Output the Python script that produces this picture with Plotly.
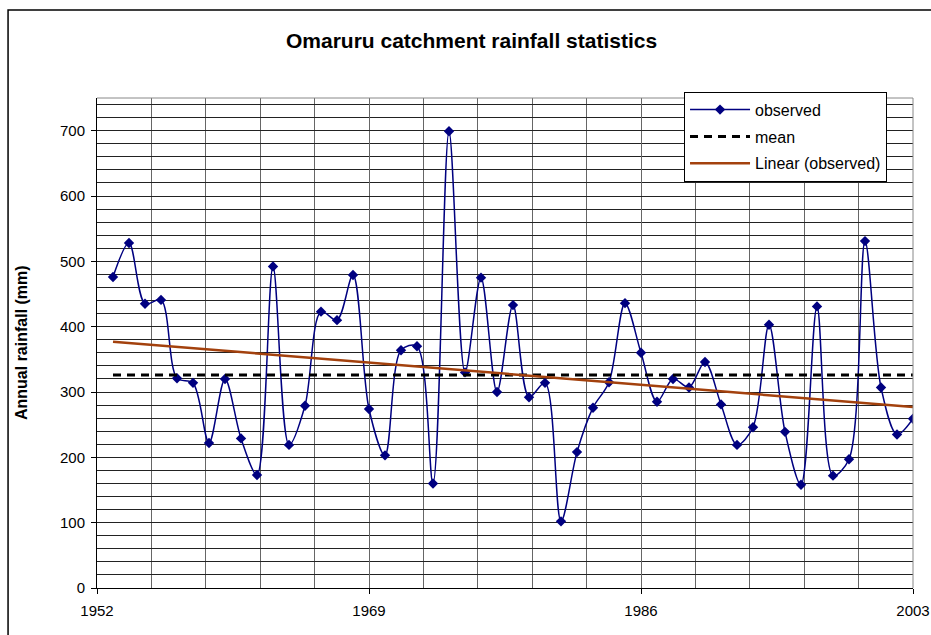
import plotly.graph_objects as go

# ---- data ----
years = [1953, 1954, 1955, 1956, 1957, 1958, 1959, 1960, 1961, 1962,
         1963, 1964, 1965, 1966, 1967, 1968, 1969, 1970, 1971, 1972,
         1973, 1974, 1975, 1976, 1977, 1978, 1979, 1980, 1981, 1982,
         1983, 1984, 1985, 1986, 1987, 1988, 1989, 1990, 1991, 1992,
         1993, 1994, 1995, 1996, 1997, 1998, 1999, 2000, 2001, 2002, 2003]
observed = [476, 528, 435, 441, 321, 314, 222, 320, 229, 173,
            492, 219, 279, 423, 410, 479, 274, 203, 364, 370,
            160, 699, 330, 475, 300, 433, 292, 314, 102, 208,
            276, 315, 436, 360, 285, 320, 307, 346, 281, 219,
            246, 403, 239, 158, 431, 172, 197, 531, 307, 235, 259]
mean_years = [1953, 2003]
mean_values = [326, 326]
trend_years = [1953, 2003]
trend_values = [377, 277]
x_ticks = [1952, 1969, 1986, 2003]

FONT = "Liberation Sans, Arial, sans-serif"

fig = go.Figure()
fig.add_trace(go.Scatter(
    x=years, y=observed, name="observed", mode="lines+markers",
    legendgroup="a",
    line=dict(color="#000080", width=1.5, shape="spline", smoothing=0.9),
    marker=dict(symbol="diamond", size=8, color="#000080"),
))
fig.add_trace(go.Scatter(
    x=mean_years, y=mean_values, name="mean", mode="lines",
    legendgroup="b",
    line=dict(color="black", width=3, dash="8px,6px"),
))
fig.add_trace(go.Scatter(
    x=trend_years, y=trend_values, name="Linear (observed)", mode="lines",
    legendgroup="c",
    line=dict(color="#A3410D", width=2.5),
))

fig.update_layout(
    width=931, height=635,
    margin=dict(l=97, r=18, t=98, b=47, autoexpand=False),
    paper_bgcolor="white", plot_bgcolor="white",
    font=dict(family=FONT, color="black"),
    title=dict(text="<b>Omaruru catchment rainfall statistics</b>",
               font=dict(family=FONT, size=21, color="black"),
               xref="paper", x=0.459, xanchor="center",
               yref="container", y=1 - 41 / 635, yanchor="middle"),
    showlegend=True,
    legend=dict(x=0.7194, y=1.0129, xanchor="left", yanchor="top",
                bgcolor="white", bordercolor="black", borderwidth=1,
                font=dict(family=FONT, size=16, color="black"),
                itemwidth=60, tracegroupgap=3),
    xaxis=dict(range=[1952, 2003], tickmode="array", tickvals=x_ticks,
               ticktext=[str(v) for v in x_ticks],
               ticks="outside", ticklen=5, tickcolor="black",
               ticklabelstandoff=4,
               showline=True, linecolor="black", linewidth=1,
               showgrid=True, gridcolor="#666666", gridwidth=1,
               minor=dict(tick0=1952, dtick=3.4, showgrid=True,
                          gridcolor="#666666", gridwidth=1, ticks=""),
               zeroline=False, automargin=False,
               tickfont=dict(size=15, family=FONT, color="black")),
    yaxis=dict(range=[0, 750], tick0=0, dtick=100,
               ticks="outside", ticklen=5, tickcolor="black",
               ticklabelstandoff=3,
               showline=True, linecolor="black", linewidth=1,
               showgrid=True, gridcolor="#222222", gridwidth=1,
               minor=dict(tick0=0, dtick=20, showgrid=True,
                          gridcolor="#222222", gridwidth=1, ticks=""),
               zeroline=False, automargin=False,
               tickfont=dict(size=15, family=FONT, color="black")),
    annotations=[dict(text="<b>Annual rainfall (mm)</b>", textangle=-90,
                      xref="paper", yref="paper", x=-0.0931, y=0.5,
                      xanchor="center", yanchor="middle", showarrow=False,
                      font=dict(family=FONT, size=16, color="black"))],
    shapes=[
        dict(type="rect", xref="paper", yref="paper", x0=-0.109, x1=1.2,
             y0=-0.3, y1=1.1796, line=dict(color="black", width=1.5),
             fillcolor="rgba(0,0,0,0)", layer="above"),
        dict(type="line", xref="paper", yref="paper", x0=0, x1=1, y0=1, y1=1,
             line=dict(color="#888888", width=1), layer="above"),
        dict(type="line", xref="paper", yref="paper", x0=1, x1=1, y0=0, y1=1,
             line=dict(color="#888888", width=1), layer="above"),
    ],
)

fig.write_html("out.html", config={"responsive": False, "displayModeBar": False},
               post_script="document.body.style.margin='0';document.body.style.overflow='hidden';")
